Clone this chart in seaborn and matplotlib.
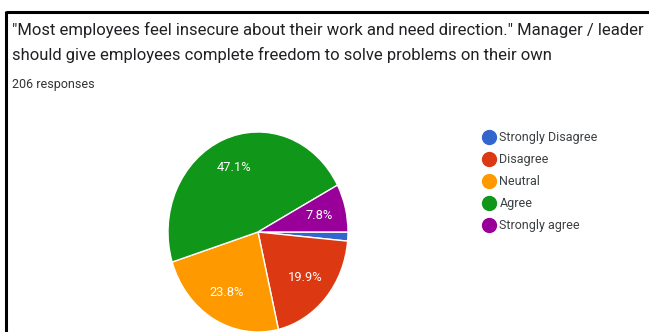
import matplotlib
matplotlib.use("Agg")
import matplotlib.pyplot as plt
from matplotlib.lines import Line2D
import seaborn as sns

# Survey answers (206 responses)
categories = ["Strongly Disagree", "Disagree", "Neutral", "Agree", "Strongly agree"]
counts = [3, 41, 49, 97, 16]
colors = ["#3366cc", "#dc3912", "#ff9900", "#109618", "#990099"]

title_lines = [
    "\"Most employees feel insecure about their work and need direction.\" Manager / leader",
    "should give employees complete freedom to solve problems on their own",
]
subtitle = "206 responses"

sns.set_theme(style="white")
plt.rcParams["font.family"] = ["Roboto", "DejaVu Sans"]
palette = sns.color_palette(colors)

W, H = 649, 332
fig = plt.figure(figsize=(W / 100, H / 100), dpi=100)
fig.patch.set_facecolor("white")

def fx(px):
    return px / W

def fy(py):
    return 1 - py / H

# Pie axes: slightly taller than wide
ax = fig.add_axes([fx(168), fy(332), fx(348) - fx(168), (332 - 132) / H])

def pct_label(p):
    return f"{p:.1f}%" if p >= 5 else ""

wedges, texts, autotexts = ax.pie(
    counts,
    colors=palette,
    startangle=0,
    counterclock=False,
    autopct=pct_label,
    pctdistance=0.70,
    radius=1.0,
    wedgeprops=dict(edgecolor="white", linewidth=1.0),
    textprops=dict(color="white", fontsize=9.3),
)
ax.set_aspect("auto")
ax.set_xlim(-1, 1)
ax.set_ylim(-1, 1)
ax.axis("off")

# Title and response count
fig.text(fx(12), fy(35), title_lines[0], fontsize=12, color="#202124", va="baseline", ha="left")
fig.text(fx(12), fy(60), title_lines[1], fontsize=12, color="#202124", va="baseline", ha="left")
fig.text(fx(12), fy(88), subtitle, fontsize=9, color="#333333", va="baseline", ha="left")

# Legend
handles = [
    Line2D([0], [0], marker="o", linestyle="", markersize=10,
           markerfacecolor=c, markeredgecolor=c)
    for c in palette
]
leg = fig.legend(
    handles, categories,
    loc="upper left", bbox_to_anchor=(fx(480), fy(131)),
    frameon=False, fontsize=9, labelspacing=0.72,
    handletextpad=0.15, handlelength=1.4, borderpad=0, borderaxespad=0,
)
for t in leg.get_texts():
    t.set_color("#3c4043")

# Card border on the top and left edges
fig.add_artist(Line2D([fx(6), 1.0], [fy(12), fy(12)], color="black", linewidth=2.2,
                      transform=fig.transFigure, solid_capstyle="butt"))
fig.add_artist(Line2D([fx(6), fx(6)], [fy(11), 0.0], color="black", linewidth=2.2,
                      transform=fig.transFigure, solid_capstyle="butt"))

fig.savefig("out.png", dpi=100, facecolor="white")
